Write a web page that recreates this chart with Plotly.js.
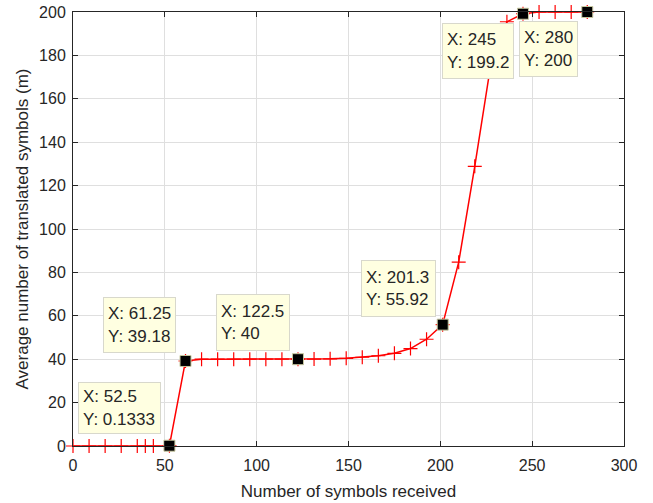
<!DOCTYPE html>
<html>
<head>
<meta charset="utf-8">
<script src="https://cdn.plot.ly/plotly-3.0.1.min.js"></script>
<style>html,body{margin:0;padding:0;background:#fff;}#chart{width:653px;height:503px;}</style>
</head>
<body>
<div id="chart"></div>
<script>
// Curve samples
var symbolsReceived = [0, 8.75, 17.5, 26.25, 35, 39.375, 43.75, 52.5, 61.25, 70, 78.75, 87.5, 96.25, 105, 113.75, 122.5,
  131.25, 140, 148.75, 157.5, 166.25, 175, 183.75, 192.5, 201.25, 210, 218.75, 227.5, 236.25, 245, 253.75, 262.5, 271.25, 280];
var translatedSymbols = [0, 0, 0, 0, 0, 0, 0, 0.1333, 39.18, 40, 40, 40, 40, 40, 40, 40,
  40.05, 40.15, 40.4, 40.9, 41.6, 42.7, 44.9, 49.2, 55.92, 84.7, 128.9, 176, 195.5, 199.2, 200, 200, 200, 200];
// Data tips
var tipX = [52.5, 61.25, 122.5, 201.3, 245, 280];
var tipY = [0.1333, 39.18, 40, 55.92, 199.2, 200];
var tipXLabels = ["52.5", "61.25", "122.5", "201.3", "245", "280"];
var tipYLabels = ["0.1333", "39.18", "40", "55.92", "199.2", "200"];
// Axis ticks
var xTicks = [0, 50, 100, 150, 200, 250, 300];
var yTicks = [0, 20, 40, 60, 80, 100, 120, 140, 160, 180, 200];

// Box placement (layout only): center in data units and size in px
var boxPos = [
  {x: 25.3, y: 17.7, w: 85, h: 52},
  {x: 36.2, y: 55.8, w: 75, h: 56},
  {x: 98.0, y: 56.7, w: 76, h: 57},
  {x: 177.2, y: 72.8, w: 77, h: 57},
  {x: 220.5, y: 182.0, w: 74, h: 56},
  {x: 258.9, y: 182.9, w: 61, h: 56}
];

var FONT = 'Liberation Sans, Arial, Helvetica, sans-serif';
var TXT = '#262626';

var traces = [
  {
    x: symbolsReceived, y: translatedSymbols, type: 'scatter', mode: 'lines+markers',
    line: {color: '#ff0000', width: 1.5},
    marker: {symbol: 'cross-thin-open', size: 10, line: {color: '#ff0000', width: 1.2}},
    cliponaxis: false, hoverinfo: 'skip'
  },
  {
    x: tipX, y: tipY, type: 'scatter', mode: 'markers',
    marker: {symbol: 'square', size: 11, color: '#000000', line: {color: '#c8c8a0', width: 1}},
    cliponaxis: false, hoverinfo: 'skip'
  }
];

var annotations = tipX.map(function (v, i) {
  var b = boxPos[i];
  return {
    x: b.x, y: b.y, xref: 'x', yref: 'y', showarrow: false,
    xanchor: 'center', yanchor: 'middle',
    text: 'X: ' + tipXLabels[i] + '<br>Y: ' + tipYLabels[i],
    align: 'left', valign: 'middle',
    width: b.w - 12, height: b.h - 10, borderpad: 4,
    bgcolor: '#ffffe1', bordercolor: '#d8d8cc', borderwidth: 1,
    font: {family: FONT, size: 17, color: TXT}
  };
});

var axisCommon = {
  showline: true, linecolor: TXT, linewidth: 1, mirror: 'ticks',
  ticks: 'inside', ticklen: 5, tickwidth: 1, tickcolor: TXT,
  showgrid: true, gridcolor: '#dfdfdf', gridwidth: 1, zeroline: false,
  tickfont: {family: FONT, size: 16, color: TXT}
};

var layout = {
  width: 653, height: 503,
  margin: {l: 73, r: 29, t: 12, b: 57, pad: 0},
  paper_bgcolor: '#ffffff', plot_bgcolor: '#ffffff',
  showlegend: false,
  xaxis: Object.assign({}, axisCommon, {
    range: [0, 300], tickmode: 'array', tickvals: xTicks, ticklabelstandoff: 5,
    title: {text: 'Number of symbols received', font: {family: FONT, size: 17, color: TXT}, standoff: 11}
  }),
  yaxis: Object.assign({}, axisCommon, {
    range: [0, 200], tickmode: 'array', tickvals: yTicks, ticklabelstandoff: 3,
    title: {text: 'Average number of translated symbols (m)', font: {family: FONT, size: 17, color: TXT}, standoff: 6}
  }),
  annotations: annotations
};

Plotly.newPlot('chart', traces, layout, {displayModeBar: false, staticPlot: true});
</script>
</body>
</html>
